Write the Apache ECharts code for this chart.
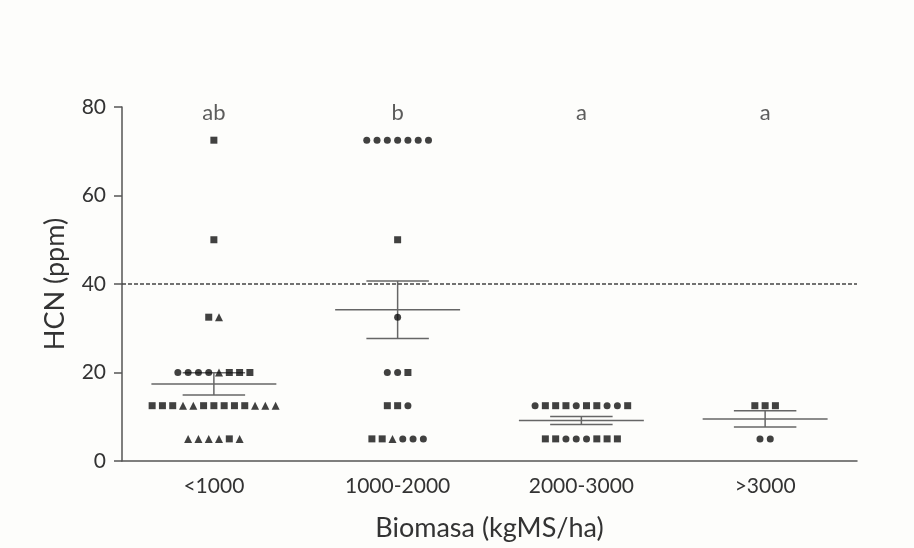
<!DOCTYPE html>
<html>
<head>
<meta charset="utf-8">
<script src="https://cdn.jsdelivr.net/npm/echarts@6/dist/echarts.min.js"></script>
<style>
  html, body { margin: 0; padding: 0; background: #fdfdfb; }
  #chart { width: 914px; height: 548px; }
</style>
</head>
<body>
<div id="chart"></div>
<script>
// categorías de biomasa y letras de significancia
const categories = ['<1000', '1000-2000', '2000-3000', '>3000'];
const letters = ['ab', 'b', 'a', 'a'];

// valores HCN (ppm) por grupo, con la forma de cada marcador
const g1Values = [72.5, 50, 32.5, 32.5,
  20, 20, 20, 20, 20, 20, 20, 20,
  12.5, 12.5, 12.5, 12.5, 12.5, 12.5, 12.5, 12.5, 12.5, 12.5, 12.5, 12.5, 12.5,
  5, 5, 5, 5, 5, 5];
const g1Symbols = ['rect', 'rect', 'rect', 'triangle',
  'circle', 'circle', 'circle', 'circle', 'triangle', 'rect', 'rect', 'rect',
  'rect', 'rect', 'rect', 'triangle', 'triangle', 'rect', 'rect', 'rect', 'rect', 'rect', 'triangle', 'triangle', 'triangle',
  'triangle', 'triangle', 'triangle', 'triangle', 'rect', 'triangle'];

const g2Values = [72.5, 72.5, 72.5, 72.5, 72.5, 72.5, 72.5, 50, 32.5,
  20, 20, 20, 12.5, 12.5, 12.5, 5, 5, 5, 5, 5, 5];
const g2Symbols = ['circle', 'circle', 'circle', 'circle', 'circle', 'circle', 'circle', 'rect', 'circle',
  'circle', 'circle', 'rect', 'rect', 'rect', 'circle', 'rect', 'rect', 'triangle', 'circle', 'circle', 'circle'];

const g3Values = [12.5, 12.5, 12.5, 12.5, 12.5, 12.5, 12.5, 12.5, 12.5, 12.5,
  5, 5, 5, 5, 5, 5, 5, 5];
const g3Symbols = ['circle', 'rect', 'rect', 'rect', 'circle', 'rect', 'rect', 'circle', 'circle', 'rect',
  'rect', 'rect', 'circle', 'circle', 'circle', 'rect', 'rect', 'rect'];

const g4Values = [12.5, 12.5, 12.5, 5, 5];
const g4Symbols = ['rect', 'rect', 'rect', 'circle', 'circle'];

const groups = [
  { values: g1Values, symbols: g1Symbols },
  { values: g2Values, symbols: g2Symbols },
  { values: g3Values, symbols: g3Symbols },
  { values: g4Values, symbols: g4Symbols }
];

const FONT = 'Lato, "Open Sans", sans-serif';
const STEP = 0.056; // separación horizontal entre puntos iguales (en unidades de categoría)

// puntos: se reparten en fila alrededor del centro de su categoría
function buildPoints(g, gi) {
  const counts = {}, seen = {};
  g.values.forEach(v => { counts[v] = (counts[v] || 0) + 1; });
  return g.values.map((v, i) => {
    const k = seen[v] || 0;
    seen[v] = k + 1;
    const x = gi + (k - (counts[v] - 1) / 2) * STEP;
    const sym = g.symbols[i];
    return { value: [x, v], symbol: sym, symbolSize: sym === 'triangle' ? 8 : 7 };
  });
}

// media y error estándar
const stats = groups.map((g, gi) => {
  const n = g.values.length;
  const mean = g.values.reduce((a, b) => a + b, 0) / n;
  const sd = Math.sqrt(g.values.reduce((a, b) => a + (b - mean) * (b - mean), 0) / (n - 1));
  const sem = sd / Math.sqrt(n);
  return [gi, mean, mean - sem, mean + sem];
});

const points = [];
groups.forEach((g, gi) => { points.push(...buildPoints(g, gi)); });

const chart = echarts.init(document.getElementById('chart'));

const option = {
  backgroundColor: '#fdfdfb',
  animation: false,
  grid: { left: 122, right: 57, top: 107, bottom: 87 },
  xAxis: [
    {
      type: 'category',
      data: categories,
      boundaryGap: true,
      name: 'Biomasa (kgMS/ha)',
      nameLocation: 'middle',
      nameGap: 54,
      nameTextStyle: { fontSize: 27, color: '#333', fontFamily: FONT },
      axisLine: { lineStyle: { color: '#555', width: 1.5 } },
      axisTick: { alignWithLabel: true, length: 8, lineStyle: { color: '#555', width: 1.5 } },
      axisLabel: { fontSize: 21, color: '#333', margin: 15, fontFamily: FONT },
      splitLine: { show: false }
    },
    { type: 'value', min: -0.5, max: 3.5, show: false }
  ],
  yAxis: {
    type: 'value',
    min: 0,
    max: 80,
    interval: 20,
    name: 'HCN (ppm)',
    nameLocation: 'middle',
    nameGap: 53,
    nameTextStyle: { fontSize: 27, color: '#333', fontFamily: FONT },
    axisLine: { show: true, onZero: false, lineStyle: { color: '#555', width: 1.5 } },
    axisTick: { show: true, length: 8, lineStyle: { color: '#555', width: 1.5 } },
    axisLabel: { fontSize: 21, color: '#333', margin: 16, fontFamily: FONT },
    splitLine: { show: false }
  },
  series: [
    {
      // media ± EE
      type: 'custom',
      xAxisIndex: 1,
      data: stats,
      z: 2,
      renderItem: function (params, api) {
        const x = api.value(0);
        const pm = api.coord([x, api.value(1)]);
        const plo = api.coord([x, api.value(2)]);
        const phi = api.coord([x, api.value(3)]);
        const unit = api.size([1, 0])[0];
        const mh = unit * 0.34, ch = unit * 0.17;
        const style = { stroke: '#666', lineWidth: 1.5 };
        return {
          type: 'group',
          children: [
            { type: 'line', shape: { x1: pm[0] - mh, y1: pm[1], x2: pm[0] + mh, y2: pm[1] }, style: style },
            { type: 'line', shape: { x1: pm[0], y1: plo[1], x2: pm[0], y2: phi[1] }, style: style },
            { type: 'line', shape: { x1: pm[0] - ch, y1: plo[1], x2: pm[0] + ch, y2: plo[1] }, style: style },
            { type: 'line', shape: { x1: pm[0] - ch, y1: phi[1], x2: pm[0] + ch, y2: phi[1] }, style: style }
          ]
        };
      }
    },
    {
      type: 'scatter',
      xAxisIndex: 1,
      data: points,
      z: 3,
      itemStyle: { color: '#111' },
      markLine: {
        silent: true,
        symbol: ['none', 'none'],
        label: { show: false },
        lineStyle: { type: [4, 2], color: '#444', width: 1.5 },
        data: [{ yAxis: 40 }]
      }
    },
    {
      // letras de significancia
      type: 'scatter',
      xAxisIndex: 1,
      symbolSize: 0,
      silent: true,
      data: letters.map((t, i) => [i, 78.6]),
      label: {
        show: true,
        position: 'inside',
        formatter: p => letters[p.dataIndex],
        fontSize: 22,
        color: '#333',
        fontFamily: FONT
      }
    }
  ]
};

chart.setOption(option);
</script>
</body>
</html>
